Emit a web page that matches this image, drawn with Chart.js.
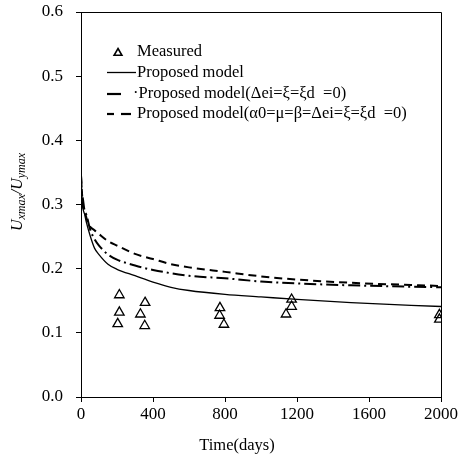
<!DOCTYPE html>
<html><head><meta charset="utf-8">
<script src="https://cdn.jsdelivr.net/npm/chart.js@4/dist/chart.umd.min.js"></script>
<style>html,body{margin:0;padding:0;background:#fff;overflow:hidden}#wrap{width:458px;height:459px}</style>
</head><body><div id="wrap"><canvas id="c" width="458" height="459"></canvas></div>
<script>
// ---- data ----
const measuredT = [213, 213, 204, 356, 330, 354, 772, 770, 794, 1170, 1170, 1139, 1991, 1991];
const measuredV = [0.159, 0.132, 0.114, 0.147, 0.129, 0.111, 0.139, 0.127, 0.113, 0.152, 0.141, 0.129, 0.128, 0.121];

const solidT = [0, 5, 10, 20, 30, 50, 75, 100, 150, 200, 300, 400, 500, 600, 800, 1000, 1200, 1500, 2000];
const solidV = [0.345, 0.31, 0.295, 0.285, 0.272, 0.252, 0.232, 0.222, 0.207, 0.199, 0.189, 0.179, 0.171, 0.166, 0.160, 0.156, 0.152, 0.147, 0.141];

const dashDotT = [0, 5, 10, 20, 30, 50, 75, 100, 150, 200, 300, 400, 600, 800, 1000, 1200, 1500, 2000];
const dashDotV = [0.345, 0.32, 0.31, 0.29, 0.284, 0.262, 0.246, 0.236, 0.222, 0.214, 0.205, 0.198, 0.189, 0.185, 0.180, 0.177, 0.174, 0.171];

const dashedT = [0, 5, 10, 20, 40, 75, 100, 150, 200, 300, 400, 500, 600, 800, 1000, 1200, 1500, 2000];
const dashedV = [0.345, 0.32, 0.30, 0.29, 0.27, 0.26, 0.254, 0.243, 0.236, 0.223, 0.215, 0.207, 0.202, 0.195, 0.188, 0.183, 0.178, 0.173];

const seriesLabels = ['Measured', 'Proposed model', '\u00b7Proposed model(\u0394ei=\u03be=\u03bed  =0)', 'Proposed model(\u03b10=\u03bc=\u03b2=\u0394ei=\u03be=\u03bed  =0)'];
const xTitle = 'Time(days)';

const pts = (t, v) => t.map((x, i) => ({x: x, y: v[i]}));
const FONT = 'Liberation Serif, Times New Roman, serif';

const framePlugin = {
  id: 'frame',
  afterDraw(chart) {
    const ctx = chart.ctx, a = chart.chartArea;
    ctx.save();
    ctx.strokeStyle = '#000'; ctx.lineWidth = 1;
    ctx.beginPath();
    ctx.moveTo(a.left, a.top + 0.5); ctx.lineTo(a.right + 0.5, a.top + 0.5); ctx.lineTo(a.right + 0.5, a.bottom);
    ctx.stroke();
    // x title
    ctx.fillStyle = '#000';
    ctx.font = '16.5px ' + FONT;
    ctx.textAlign = 'center'; ctx.textBaseline = 'middle';
    ctx.fillText(xTitle, (a.left + a.right) / 2 - 24, a.bottom + 49);
    // y title with subscripts
    const parts = [['U', 16, 0], ['xmax', 12, 1], ['/U', 16, 0], ['ymax', 12, 1]];
    let w = 0;
    parts.forEach(p => { ctx.font = 'italic ' + p[1] + 'px ' + FONT; w += ctx.measureText(p[0]).width; });
    ctx.translate(16, 192);
    ctx.rotate(-Math.PI / 2);
    ctx.textAlign = 'left'; ctx.textBaseline = 'alphabetic';
    let x = -w / 2;
    parts.forEach(p => {
      ctx.font = 'italic ' + p[1] + 'px ' + FONT;
      ctx.fillText(p[0], x, 6 + (p[2] ? 3 : 0));
      x += ctx.measureText(p[0]).width;
    });
    ctx.restore();
    // legend
    ctx.save();
    const L = a.left, tx = a.left + 56;
    const rows = [a.top + 40, a.top + 60.5, a.top + 82, a.top + 102];
    ctx.font = '16.5px ' + FONT; ctx.fillStyle = '#000'; ctx.strokeStyle = '#000';
    ctx.textAlign = 'left'; ctx.textBaseline = 'middle';
    const seg = (x1, x2, y, lw) => { ctx.lineWidth = lw; ctx.beginPath(); ctx.moveTo(L + x1, y); ctx.lineTo(L + x2, y); ctx.stroke(); };
    chart.data.datasets.forEach((ds, i) => {
      const y = rows[i];
      if (i === 0) {
        const cx = L + 37, r = 4.5;
        ctx.lineWidth = 1.6;
        ctx.beginPath();
        for (let k = 0; k < 3; k++) {
          const ang = k * 2 * Math.PI / 3;
          const px = cx + Math.sin(ang) * r, py = y + 1 - Math.cos(ang) * r;
          k ? ctx.lineTo(px, py) : ctx.moveTo(px, py);
        }
        ctx.closePath(); ctx.stroke();
      } else if (i === 1) {
        seg(26, 55, y, 1.3);
      } else if (i === 2) {
        seg(26, 40, y, 2.2);
      } else {
        seg(26, 33, y, 2.2); seg(40, 50, y, 2.2);
      }
      ctx.fillText(ds.label, i === 2 ? tx - 4 : tx, y);
    });
    ctx.restore();
  }
};

new Chart(document.getElementById('c'), {
  type: 'scatter',
  data: {
    datasets: [
      {label: seriesLabels[0], data: pts(measuredT, measuredV), showLine: false, pointStyle: 'triangle', pointRadius: 5.5, pointBorderWidth: 1.3, pointBorderColor: '#000', pointBackgroundColor: 'rgba(255,255,255,0)', order: 0},
      {label: seriesLabels[1], data: pts(solidT, solidV), showLine: true, borderColor: '#000', borderWidth: 1.3, pointRadius: 0, cubicInterpolationMode: 'monotone', order: 1},
      {label: seriesLabels[2], data: pts(dashDotT, dashDotV), showLine: true, borderColor: '#000', borderWidth: 2, borderDash: [12, 4, 2, 4], pointRadius: 0, cubicInterpolationMode: 'monotone', order: 2},
      {label: seriesLabels[3], data: pts(dashedT, dashedV), showLine: true, borderColor: '#000', borderWidth: 2, borderDash: [8, 5], pointRadius: 0, cubicInterpolationMode: 'monotone', order: 3}
    ]
  },
  options: {
    responsive: false, animation: false, devicePixelRatio: 1,
    layout: {padding: {top: 12, right: 17, left: 0, bottom: 0}},
    plugins: {legend: {display: false}, tooltip: {enabled: false}},
    scales: {
      x: {
        type: 'linear', min: 0, max: 2000,
        ticks: {stepSize: 400, color: '#000', font: {family: FONT, size: 17}, padding: 2, maxRotation: 0, callback: v => String(v)},
        grid: {drawOnChartArea: false, color: '#000', tickLength: 5, tickWidth: 1},
        border: {color: '#000', width: 1},
        afterFit(s) { s.paddingLeft = 0; s.paddingRight = 0; s.height = 62; }
      },
      y: {
        min: 0, max: 0.6,
        ticks: {stepSize: 0.1, color: '#000', font: {family: FONT, size: 17}, padding: 13, callback: v => v.toFixed(1)},
        grid: {drawOnChartArea: false, color: '#000', tickLength: 5, tickWidth: 1},
        border: {color: '#000', width: 1},
        afterFit(s) { s.paddingTop = 0; s.paddingBottom = 0; s.width = 81; }
      }
    }
  },
  plugins: [framePlugin]
});
</script>
</body></html>
